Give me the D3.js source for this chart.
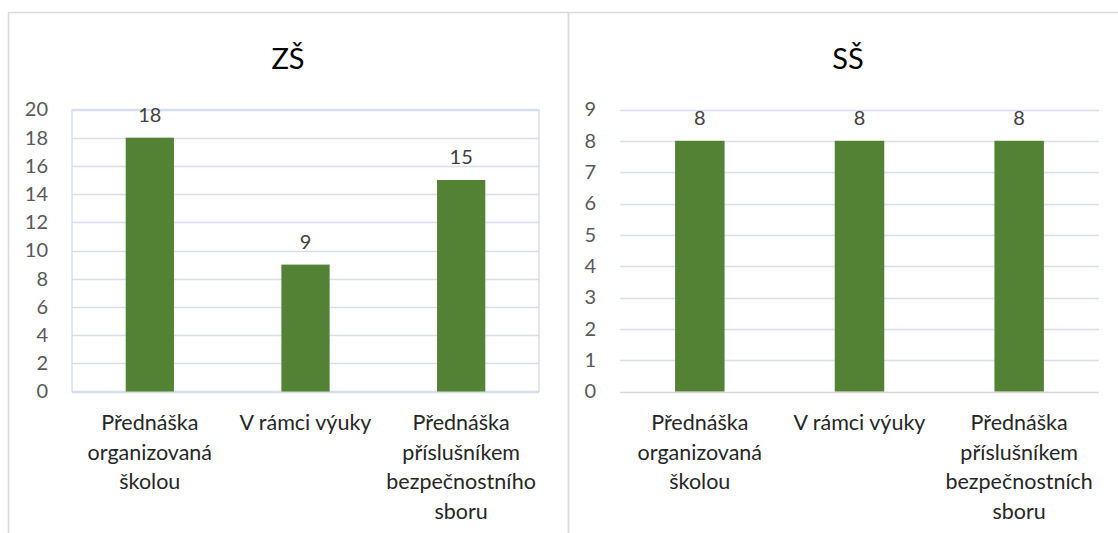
<!DOCTYPE html>
<html lang="cs">
<head>
	<meta charset="UTF-8" />
	<title>ZŠ / SŠ</title>
	<script src="https://cdn.jsdelivr.net/npm/d3@7"></script>
	<style>
		body { margin: 0; background: #fff; }
		text { font-family: Lato, "Open Sans", sans-serif; }
	</style>
</head>
<body>
	<svg id="vis" width="1118" height="533"></svg>
	<script>
		// données
		var kategorieZS = ["Přednáška organizovaná školou", "V rámci výuky", "Přednáška příslušníkem bezpečnostního sboru"];
		var hodnotyZS = [18, 9, 15];
		var tickyZS = [0, 2, 4, 6, 8, 10, 12, 14, 16, 18, 20];

		var kategorieSS = ["Přednáška organizovaná školou", "V rámci výuky", "Přednáška příslušníkem bezpečnostních sboru"];
		var hodnotySS = [8, 8, 8];
		var tickySS = [0, 1, 2, 3, 4, 5, 6, 7, 8, 9];

		var svg = d3.select("#vis");

		// cadres des deux graphiques
		svg.append("rect").attr("x", 8.5).attr("y", 12.5).attr("width", 560).attr("height", 540)
			.attr("fill", "none").attr("stroke", "#d9d9d9").attr("stroke-width", 1.5);
		svg.append("rect").attr("x", 568.5).attr("y", 12.5).attr("width", 580).attr("height", 540)
			.attr("fill", "none").attr("stroke", "#d9d9d9").attr("stroke-width", 1.5);

		function wrap(sel, maxW) {
			sel.each(function() {
				var t = d3.select(this);
				var words = t.text().split(" ");
				var x = t.attr("x");
				t.text(null);
				var lines = [];
				var cur = [];
				var probe = t.append("tspan");
				words.forEach(function(w) {
					var test = cur.concat([w]).join(" ");
					probe.text(test);
					if (probe.node().getComputedTextLength() > maxW && cur.length) {
						lines.push(cur.join(" "));
						cur = [w];
					} else {
						cur.push(w);
					}
				});
				lines.push(cur.join(" "));
				probe.remove();
				lines.forEach(function(l, i) {
					t.append("tspan").attr("x", x).attr("dy", i == 0 ? 0 : 29.5).text(l);
				});
			});
		}

		function graf(nazev, kategorie, hodnoty, ticky, x0, x1, ramecek, stredNazvu) {
			var top = 109.5, bottom = 391.5;

			var scaleX = d3.scaleBand()
				.domain(kategorie)
				.range([x0, x1])
				.paddingInner(0.69)
				.paddingOuter(0.345);

			var scaleY = d3.scaleLinear()
				.domain([0, d3.max(ticky)])
				.range([bottom, top]);

			var g = svg.append("g");

			// titre
			g.append("text")
				.attr("x", stredNazvu).attr("y", 69)
				.attr("text-anchor", "middle")
				.attr("font-size", 29)
				.attr("fill", "#000")
				.text(nazev);

			// grille
			g.append("g").selectAll("line").data(ticky).join("line")
				.attr("x1", x0).attr("x2", x1)
				.attr("y1", function(d) { return Math.round(scaleY(d)) + 0.5; })
				.attr("y2", function(d) { return Math.round(scaleY(d)) + 0.5; })
				.attr("stroke", function(d) { return d == 0 && !ramecek ? "#d9d9d9" : "#d6deee"; })
				.attr("stroke-width", 1.5);

			if (ramecek) {
				g.append("rect")
					.attr("x", x0).attr("y", top)
					.attr("width", x1 - x0).attr("height", bottom - top)
					.attr("fill", "none").attr("stroke", "#d6deee").attr("stroke-width", 1.5);
			}

			// axe Y
			var yAxis = d3.axisLeft(scaleY).tickValues(ticky).tickSize(0).tickPadding(24);
			var gy = g.append("g").attr("transform", "translate(" + x0 + ",0)").call(yAxis);
			gy.select(".domain").remove();
			gy.selectAll("text").attr("font-size", 20).attr("fill", "#595959")
				.attr("font-family", "Lato, 'Open Sans', sans-serif");

			// barres
			g.append("g").selectAll("rect").data(hodnoty).join("rect")
				.attr("x", function(d, i) { return scaleX(kategorie[i]); })
				.attr("y", function(d) { return scaleY(d); })
				.attr("width", scaleX.bandwidth())
				.attr("height", function(d) { return scaleY(0) - scaleY(d); })
				.attr("fill", "#548235");

			// étiquettes
			g.append("g").selectAll("text").data(hodnoty).join("text")
				.attr("x", function(d, i) { return scaleX(kategorie[i]) + scaleX.bandwidth() / 2; })
				.attr("y", function(d) { return scaleY(d) - 16; })
				.attr("text-anchor", "middle")
				.attr("font-size", 20)
				.attr("fill", "#404040")
				.text(function(d) { return d; });

			// catégories
			g.append("g").selectAll("text").data(kategorie).join("text")
				.attr("x", function(d) { return scaleX(d) + scaleX.bandwidth() / 2; })
				.attr("y", 430)
				.attr("text-anchor", "middle")
				.attr("font-size", 21.5)
				.attr("fill", "#262626")
				.text(function(d) { return d; })
				.call(wrap, scaleX.step() - 1);
		}

		graf("ZŠ", kategorieZS, hodnotyZS, tickyZS, 72, 539, true, 288);
		graf("SŠ", kategorieSS, hodnotySS, tickySS, 620, 1099, false, 848);
	</script>
</body>
</html>
